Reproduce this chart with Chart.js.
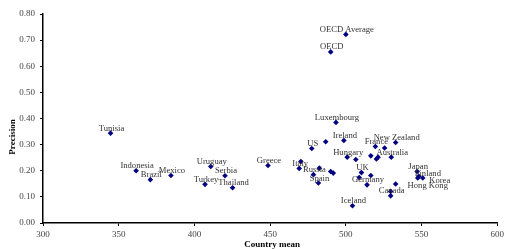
<!DOCTYPE html>
<html>
<head>
<meta charset="utf-8">
<script src="https://cdn.jsdelivr.net/npm/chart.js@4/dist/chart.umd.min.js"></script>
<style>
  html, body { margin: 0; padding: 0; background: #fff; }
</style>
</head>
<body>
<canvas id="chart" width="507" height="249"></canvas>
<script>
// Nombres de los paises (vacio = punto sin etiqueta)
const countries = [
  'OECD Average', 'OECD', 'Luxembourg', 'Tunisia', 'Indonesia', 'Brazil', 'Mexico',
  'Uruguay', 'Serbia', 'Turkey', 'Thailand', 'Greece', 'Italy', '', 'US', '',
  'Ireland', 'Russia', '', 'Spain', '', '', 'Hungary', '', 'France', 'New Zealand',
  '', 'Australia', '', '', '', 'UK', 'Germany', '', '', 'Canada', '', '',
  'Japan', 'Finland', 'Korea', 'Hong Kong', 'Iceland'
];
const countryMean = [
  500, 490, 493.5, 344.6, 361.5, 370.9, 384.5,
  410.8, 420.2, 407.0, 425.2, 448.6, 469.2, 470.3, 477.5, 486.7,
  498.7, 478.6, 482.5, 481.9, 490.0, 491.7, 500.9, 506.6, 519.5, 532.9,
  525.6, 530.0, 516.5, 521.3, 520.2, 510.3, 514.0, 508.8, 516.5, 529.6, 529.6, 532.9,
  547.1, 548.2, 550.8, 547.5, 504.4
];
const precision = [
  0.722, 0.655, 0.385, 0.344, 0.200, 0.166, 0.182,
  0.216, 0.181, 0.148, 0.135, 0.220, 0.209, 0.235, 0.285, 0.311,
  0.316, 0.185, 0.210, 0.153, 0.197, 0.191, 0.252, 0.243, 0.293, 0.308,
  0.287, 0.252, 0.257, 0.252, 0.245, 0.193, 0.146, 0.174, 0.182, 0.104, 0.121, 0.149,
  0.197, 0.179, 0.172, 0.172, 0.066
];
const xTicks = [300, 350, 400, 450, 500, 550, 600];
const yTicks = [0, 0.1, 0.2, 0.3, 0.4, 0.5, 0.6, 0.7, 0.8];

// Etiquetas movidas a mano (dx, dy en px)
const labelShift = {
  'Finland': [8, 2],
  'Korea': [16, 7],
  'Hong Kong': [9, 12]
};

const FONT = '"Liberation Serif", "DejaVu Serif", serif';

/* Plugin: etiquetas de puntos y titulos de ejes */
const labelsPlugin = {
  id: 'pointLabels',
  afterDatasetsDraw(chart) {
    const ctx = chart.ctx;
    const meta = chart.getDatasetMeta(0);
    ctx.save();
    ctx.font = '8.6px ' + FONT;
    ctx.fillStyle = '#333';
    ctx.textAlign = 'center';
    ctx.textBaseline = 'alphabetic';
    meta.data.forEach((pt, i) => {
      const name = countries[i];
      if (!name) return;
      const s = labelShift[name] || [0, 0];
      ctx.fillText(name, pt.x + 1 + s[0], pt.y - 2.5 + s[1]);
    });

    ctx.font = 'bold 9px ' + FONT;
    ctx.fillStyle = '#000';
    ctx.textBaseline = 'middle';
    ctx.fillText('Country mean', (chart.chartArea.left + chart.chartArea.right) / 2 + 2, 245);
    ctx.translate(12.5, 137);
    ctx.rotate(-Math.PI / 2);
    ctx.fillText('Precision', 0, 0);
    ctx.restore();
  }
};

const chart = new Chart(document.getElementById('chart'), {
  type: 'scatter',
  data: {
    datasets: [{
      data: countryMean.map((x, i) => ({ x: x, y: precision[i] })),
      pointStyle: 'rectRot',
      pointRadius: 2.8,
      pointHoverRadius: 2.8,
      backgroundColor: '#000080',
      borderWidth: 0
    }]
  },
  options: {
    responsive: false,
    animation: false,
    layout: { padding: { top: 14, right: 7, left: 0, bottom: 0 } },
    plugins: { legend: { display: false }, tooltip: { enabled: false } },
    scales: {
      x: {
        type: 'linear',
        min: 300, max: 600,
        afterBuildTicks: s => { s.ticks = xTicks.map(v => ({ value: v })); },
        afterFit: s => { s.height = 26; },
        ticks: { font: { family: FONT, size: 9 }, color: '#444', padding: 3 },
        grid: { drawOnChartArea: false, drawTicks: true, tickLength: 3, color: '#000' },
        border: { color: '#000', width: 1.5 }
      },
      y: {
        min: 0, max: 0.8,
        afterBuildTicks: s => { s.ticks = yTicks.map(v => ({ value: v })); },
        afterFit: s => { s.width = 43; },
        ticks: {
          font: { family: FONT, size: 9 }, color: '#444', padding: 5,
          callback: v => v.toFixed(2)
        },
        grid: { drawOnChartArea: false, drawTicks: true, tickLength: 3, color: '#000' },
        border: { color: '#000', width: 1.5 }
      }
    }
  },
  plugins: [labelsPlugin]
});
</script>
</body>
</html>
